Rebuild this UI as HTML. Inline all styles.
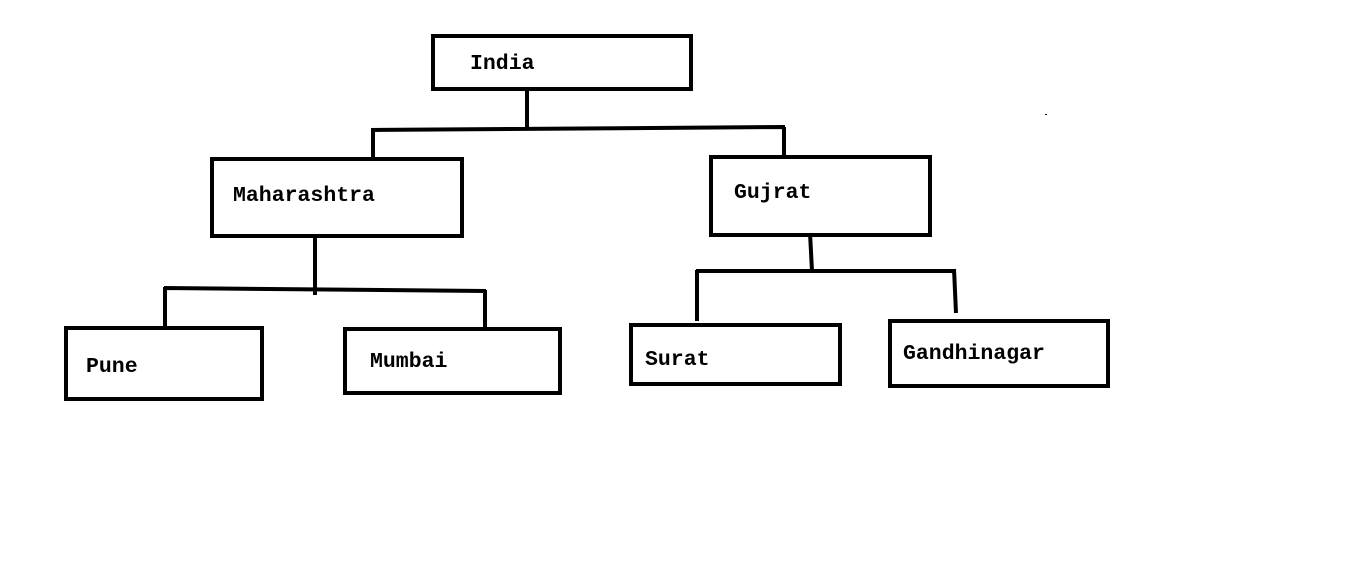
<!DOCTYPE html>
<html><head><style>
body{margin:0;width:1360px;height:566px;background:#fff;overflow:hidden;position:relative}
.b{position:absolute;border:4px solid #000;box-sizing:border-box}
.t{position:absolute;font-family:"Liberation Mono",monospace;font-weight:bold;font-size:21.5px;line-height:1;color:#000}
svg{position:absolute;left:0;top:0}
</style></head><body>
<svg width="1360" height="566" stroke="#000" stroke-width="4" fill="none">
<path d="M527 91V128M371 130L785 127M373 129V157M784 127V155"/>
<path d="M315 238V295M164 288L486 291M165 287V326M485 290V327"/>
<path d="M810 233L812 271M696 271L954 271M697 270V321M954 269L956 313"/>
<rect x="1045" y="114" width="2" height="1" fill="#000" stroke="none"/>
</svg>
<div class="b" style="left:431px;top:34px;width:262px;height:57px"></div>
<div class="b" style="left:210px;top:157px;width:254px;height:81px"></div>
<div class="b" style="left:709px;top:155px;width:223px;height:82px"></div>
<div class="b" style="left:64px;top:326px;width:200px;height:75px"></div>
<div class="b" style="left:343px;top:327px;width:219px;height:68px"></div>
<div class="b" style="left:629px;top:323px;width:213px;height:63px"></div>
<div class="b" style="left:888px;top:319px;width:222px;height:69px"></div>
<div class="t" style="left:470px;top:54px">India</div>
<div class="t" style="left:233px;top:186px">Maharashtra</div>
<div class="t" style="left:734px;top:183px">Gujrat</div>
<div class="t" style="left:86px;top:357px">Pune</div>
<div class="t" style="left:370px;top:352px">Mumbai</div>
<div class="t" style="left:645px;top:350px">Surat</div>
<div class="t" style="left:903px;top:344px">Gandhinagar</div>
</body></html>
